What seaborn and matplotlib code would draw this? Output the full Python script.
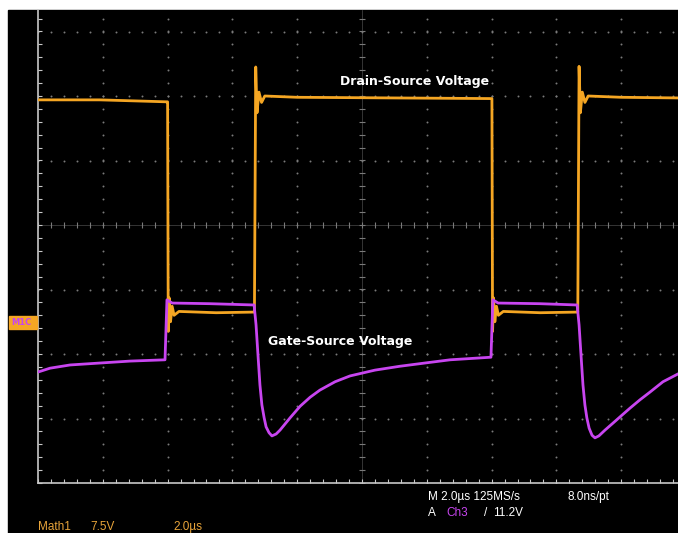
import numpy as np
import matplotlib
matplotlib.use("Agg")
import matplotlib.pyplot as plt
from matplotlib.patches import Rectangle
import seaborn as sns
import pandas as pd

# time in microseconds (2.0 us/div), level in screen divisions from the centre line
vds_t = [0.00, 1.91, 3.95, 4.00, 4.02, 4.05, 4.09, 4.14, 4.20, 4.35, 5.50, 6.68,
         6.72, 6.76, 6.82, 6.90, 7.00, 8.00, 11.00, 14.00,
         14.01, 14.03, 14.06, 14.10, 14.15, 14.21, 14.36, 15.50, 16.66,
         16.70, 16.74, 16.80, 16.88, 16.98, 18.00, 19.75]
vds_v = [1.94, 1.94, 1.91, 1.91, -1.65, -1.13, -1.50, -1.26, -1.40, -1.34, -1.36, -1.35,
         2.45, 1.74, 2.06, 1.90, 2.00, 1.98, 1.97, 1.96,
         1.96, -1.65, -1.13, -1.50, -1.26, -1.40, -1.34, -1.36, -1.35,
         2.46, 1.74, 2.06, 1.90, 2.00, 1.98, 1.97]

vgs_t = [0.00, 0.37, 0.99, 1.91, 2.84, 3.92, 3.98, 4.14, 5.31, 6.67,
         6.73, 6.79, 6.85, 6.91, 6.98, 7.04, 7.13, 7.22, 7.35, 7.47, 7.78, 8.09,
         8.40, 8.70, 9.17, 9.63, 10.40, 11.17, 11.94, 12.72, 13.98,
         14.04, 14.20, 15.49, 16.64,
         16.70, 16.76, 16.82, 16.88, 16.94, 17.01, 17.10, 17.19, 17.31, 17.50,
         17.75, 18.02, 18.27, 18.58, 18.89, 19.29, 19.75]
vgs_v = [-2.28, -2.22, -2.17, -2.14, -2.11, -2.09, -1.16, -1.21, -1.22, -1.24,
         -1.55, -2.02, -2.48, -2.79, -2.99, -3.13, -3.22, -3.27, -3.24, -3.18, -2.99, -2.81,
         -2.67, -2.56, -2.43, -2.34, -2.25, -2.19, -2.14, -2.09, -2.05,
         -1.16, -1.21, -1.22, -1.24,
         -1.55, -2.02, -2.48, -2.79, -2.99, -3.15, -3.26, -3.30, -3.27, -3.18,
         -3.07, -2.95, -2.84, -2.71, -2.59, -2.43, -2.31]

vds = pd.DataFrame({"t": vds_t, "v": vds_v})
vgs = pd.DataFrame({"t": vgs_t, "v": vgs_v})

W, H = 678, 533
fig = plt.figure(figsize=(W / 100, H / 100), dpi=100)
fig.patch.set_facecolor("white")
fig.add_artist(Rectangle((8 / W, 0), 1, (H - 10) / H, transform=fig.transFigure,
                         color="black", zorder=-10))

x0, yb, yt = 38, 483, 10
ytop = (225 - yt) / 64.5
ax = fig.add_axes([x0 / W, (H - yb) / H, (W - x0) / W, (yb - yt) / H])
ax.set_facecolor("none")
ax.set_xlim(0, (W - x0) / 64.8 * 2)
ax.set_ylim(-4, ytop)
ax.axis("off")

# graticule
gc = "#7a7a7a"
ys = np.arange(-4, ytop, 0.2)
xs = np.arange(0, 20, 0.4)
for gx in range(2, 20, 2):
    if gx == 10:
        continue
    ax.scatter(np.full_like(ys, gx), ys, s=2, color=gc, lw=0, zorder=1)
for gy in range(-3, 4):
    if gy == 0:
        continue
    ax.scatter(xs, np.full_like(xs, gy), s=2, color=gc, lw=0, zorder=1)
ax.plot(np.full_like(ys, 10), ys, ls="none", marker="_", ms=5, mew=0.8, color=gc, zorder=1)
ax.plot(xs, np.zeros_like(xs), ls="none", marker="|", ms=5, mew=0.8, color=gc, zorder=1)
ax.plot([10, 10], [-4, ytop], color=gc, lw=0.5, alpha=0.6, zorder=1)
ax.plot([0, 20], [0, 0], color=gc, lw=0.5, alpha=0.6, zorder=1)

bc = "#c8c8c8"
ax.plot([0, 0], [-4, ytop], color=bc, lw=1.2, clip_on=False, zorder=2)
ax.plot([0, 20], [-4, -4], color=bc, lw=1.2, clip_on=False, zorder=2)
ax.plot(np.zeros_like(ys), ys, ls="none", marker=1, ms=3, mew=0.8, color=bc, clip_on=False)
ax.plot(xs, np.full_like(xs, -4), ls="none", marker=2, ms=3, mew=0.8, color=bc, clip_on=False)

orange = "#f5a623"
purple = "#c845f0"
sns.lineplot(data=vds, x="t", y="v", estimator=None, sort=False, color=orange,
             lw=2.0, ax=ax, zorder=3)
sns.lineplot(data=vgs, x="t", y="v", estimator=None, sort=False, color=purple,
             lw=2.0, ax=ax, zorder=4)
ax.axis("off")

ax.text(9.32, 2.22, "Drain-Source Voltage", color="white", fontsize=9,
        fontweight="bold", ha="left", va="center", zorder=5)
ax.text(7.10, -1.81, "Gate-Source Voltage", color="white", fontsize=9,
        fontweight="bold", ha="left", va="center", zorder=5)

# reference marker
fig.add_artist(Rectangle((9 / W, 1 - 329 / H), 28 / W, 13 / H, transform=fig.transFigure,
                         color=orange, zorder=5))
fig.text(11 / W, 1 - 322.5 / H, "M1C", color=purple, fontsize=6, fontweight="bold",
         va="center", ha="left", zorder=6)

# readouts
fn = "Liberation Sans"
def px(x, y, s, c, **kw):
    fig.text(x / W, 1 - y / H, s, color=c, fontsize=8.5, family=fn, va="center", ha="left", **kw)

px(428, 497, "M 2.0µs 125MS/s", "white")
px(568, 497, "8.0ns/pt", "white")
px(428, 513, "A", "white")
px(446, 513, "Ch3", purple)
px(484, 513, "/", "white")
px(493, 513, "11.2V", "white")
px(38, 527, "Math1", "#e8a43a")
px(90, 527, "7.5V", "#e8a43a")
px(173, 527, "2.0µs", "#e8a43a")

fig.savefig("out.png", dpi=100, facecolor=fig.get_facecolor())
